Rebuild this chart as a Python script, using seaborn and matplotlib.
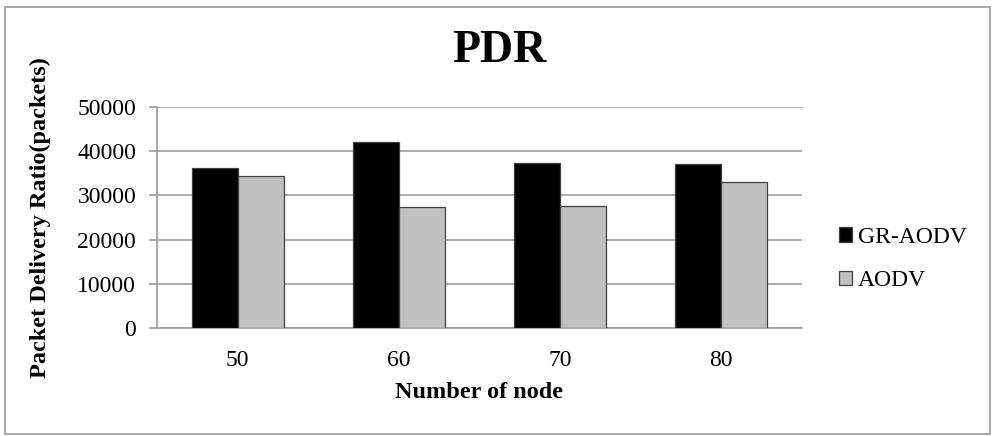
import matplotlib
matplotlib.use("Agg")
import matplotlib.pyplot as plt
import seaborn as sns
import pandas as pd
from matplotlib.patches import Rectangle

nodes = ["50", "60", "70", "80"]
gr_aodv = [36200, 42100, 37300, 37000]
aodv = [34300, 27300, 27600, 33000]
series_names = ["GR-AODV", "AODV"]
y_ticks = [0, 10000, 20000, 30000, 40000, 50000]

df = pd.DataFrame({
    "node": nodes * 2,
    "value": gr_aodv + aodv,
    "series": [series_names[0]] * len(nodes) + [series_names[1]] * len(nodes),
})

sns.set_style("white")
plt.rcParams["font.family"] = ["Liberation Serif", "DejaVu Serif"]
plt.rcParams["text.color"] = "black"
plt.rcParams["axes.labelcolor"] = "black"
plt.rcParams["xtick.color"] = "black"
plt.rcParams["ytick.color"] = "black"

fig = plt.figure(figsize=(9.92, 4.36), dpi=100)
ax = fig.add_axes([157 / 992, 108 / 436, 645 / 992, 221 / 436])

sns.barplot(data=df, x="node", y="value", hue="series", order=nodes,
            hue_order=series_names, palette=["#000000", "#C0C0C0"],
            width=0.57, edgecolor="#404040", linewidth=0.9, ax=ax,
            errorbar=None, zorder=3)

ax.set_ylim(0, 50000)
ax.set_yticks(y_ticks)
ax.set_yticklabels([str(v) for v in y_ticks])
ax.set_xlim(-0.5, len(nodes) - 0.5)
ax.yaxis.grid(True, color="#A6A6A6", linewidth=1.3, zorder=0)
ax.set_axisbelow(True)
for s in ["top", "right"]:
    ax.spines[s].set_visible(False)
for s in ["left", "bottom"]:
    ax.spines[s].set_color("#A0A0A0")
    ax.spines[s].set_linewidth(1.3)
ax.tick_params(axis="y", which="major", left=True, length=6, width=1.3,
               color="#A0A0A0", pad=9, labelsize=17, labelcolor="black")
ax.tick_params(axis="x", length=0, pad=16, labelsize=17, labelcolor="black")

ax.set_xlabel("Number of node", fontsize=17.5, fontweight="bold", color="black")
ax.set_ylabel("Packet Delivery Ratio(packets)", fontsize=17.5,
              fontweight="bold", color="black")
ax.xaxis.set_label_coords(0.5, -0.245)
ax.yaxis.set_label_coords(-0.165, 0.5)

fig.text(0.503, 0.883, "PDR", ha="center", va="center", fontsize=33,
         fontweight="bold", color="black")

handles, labels = ax.get_legend_handles_labels()
if ax.legend_ is not None:
    ax.legend_.remove()
fig.legend(handles, labels, loc="center left", bbox_to_anchor=(0.846, 0.406),
           frameon=False, fontsize=17, handlelength=0.55, handleheight=0.55,
           handletextpad=0.25, labelspacing=0.95, borderpad=0, borderaxespad=0)

fig.patches.append(Rectangle((5 / 992, 2 / 436), 985 / 992, 427 / 436,
                             transform=fig.transFigure, fill=False,
                             edgecolor="#A0A0A0", linewidth=1.3))

fig.savefig("out.png", dpi=100)
